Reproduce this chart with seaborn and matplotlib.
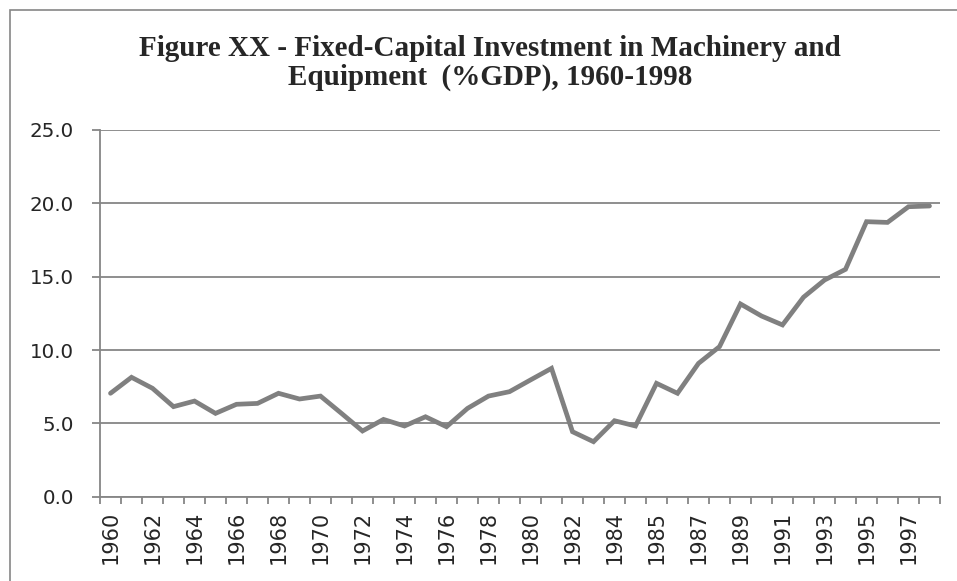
import matplotlib
matplotlib.use("Agg")
import matplotlib.pyplot as plt
import seaborn as sns
import pandas as pd
import numpy as np
from matplotlib.patches import Rectangle

years = [str(y) for y in range(1960, 1985)] + ["1984b"] + [str(y) for y in range(1985, 1999)]
tick_labels = [str(y) for y in range(1960, 1985)] + ["1984"] + [str(y) for y in range(1985, 1999)]
values = [7.05, 8.14, 7.39, 6.14, 6.52, 5.68, 6.30, 6.36, 7.05, 6.66,
          6.86, 5.68, 4.48, 5.27, 4.82, 5.45, 4.77, 6.02, 6.86, 7.16,
          7.96, 8.75, 4.43, 3.75, 5.18, 4.82, 7.73, 7.05, 9.09, 10.23,
          13.14, 12.32, 11.71, 13.60, 14.77, 15.50, 18.75, 18.70, 19.77, 19.82]
title = "Figure XX - Fixed-Capital Investment in Machinery and\nEquipment  (%GDP), 1960-1998"

sns.set_theme(style="white")
plt.rcParams['font.family'] = ['DejaVu Sans']

df = pd.DataFrame({"pos": np.arange(len(years)), "value": values})

fig = plt.figure(figsize=(9.57, 5.81), dpi=100)
ax = fig.add_axes([100/957, 1-496.7/581, 840/957, (496.7-130)/581])

gray = "#868686"
sns.lineplot(data=df, x="pos", y="value", ax=ax, color="#808080", linewidth=3.4,
             solid_joinstyle="miter")

ax.set_ylim(0, 25)
ax.set_xlim(-0.5, len(years) - 0.5)
ax.set_yticks(np.arange(0, 26, 5))
ax.set_yticklabels([f"{v:.1f}" for v in np.arange(0, 26, 5)], fontsize=14.3)
ax.yaxis.grid(True, color=gray, linewidth=1.3)
ax.set_axisbelow(True)

major = np.arange(0, len(years), 2)
ax.set_xticks(major)
ax.set_xticklabels([tick_labels[i] for i in major], rotation=90, fontsize=15)
ax.set_xticks(np.arange(-0.5, len(years), 1), minor=True)
ax.tick_params(axis="x", which="major", length=0, pad=10)
ax.tick_params(axis="x", which="minor", length=5, width=1.3, color=gray, direction="out", bottom=True)
ax.tick_params(axis="y", which="major", length=5.8, width=1.3, color=gray, direction="out", pad=13, left=True)

for s in ["top", "right"]:
    ax.spines[s].set_visible(False)
for s in ["left", "bottom"]:
    ax.spines[s].set_color(gray)
    ax.spines[s].set_linewidth(1.3)

ax.set_xlabel("")
ax.set_ylabel("")

fig.text(490/957, 1-63/581, title, ha="center", va="center", fontsize=21,
         fontweight="bold", family="Liberation Serif", linespacing=1.05)

fig.patches.append(Rectangle((10/957, -0.1), 1.2, 1 - 9.5/581 + 0.1, transform=fig.transFigure,
                             fill=False, edgecolor=gray, linewidth=1.2, zorder=-1))

fig.savefig("out.png", dpi=100)
